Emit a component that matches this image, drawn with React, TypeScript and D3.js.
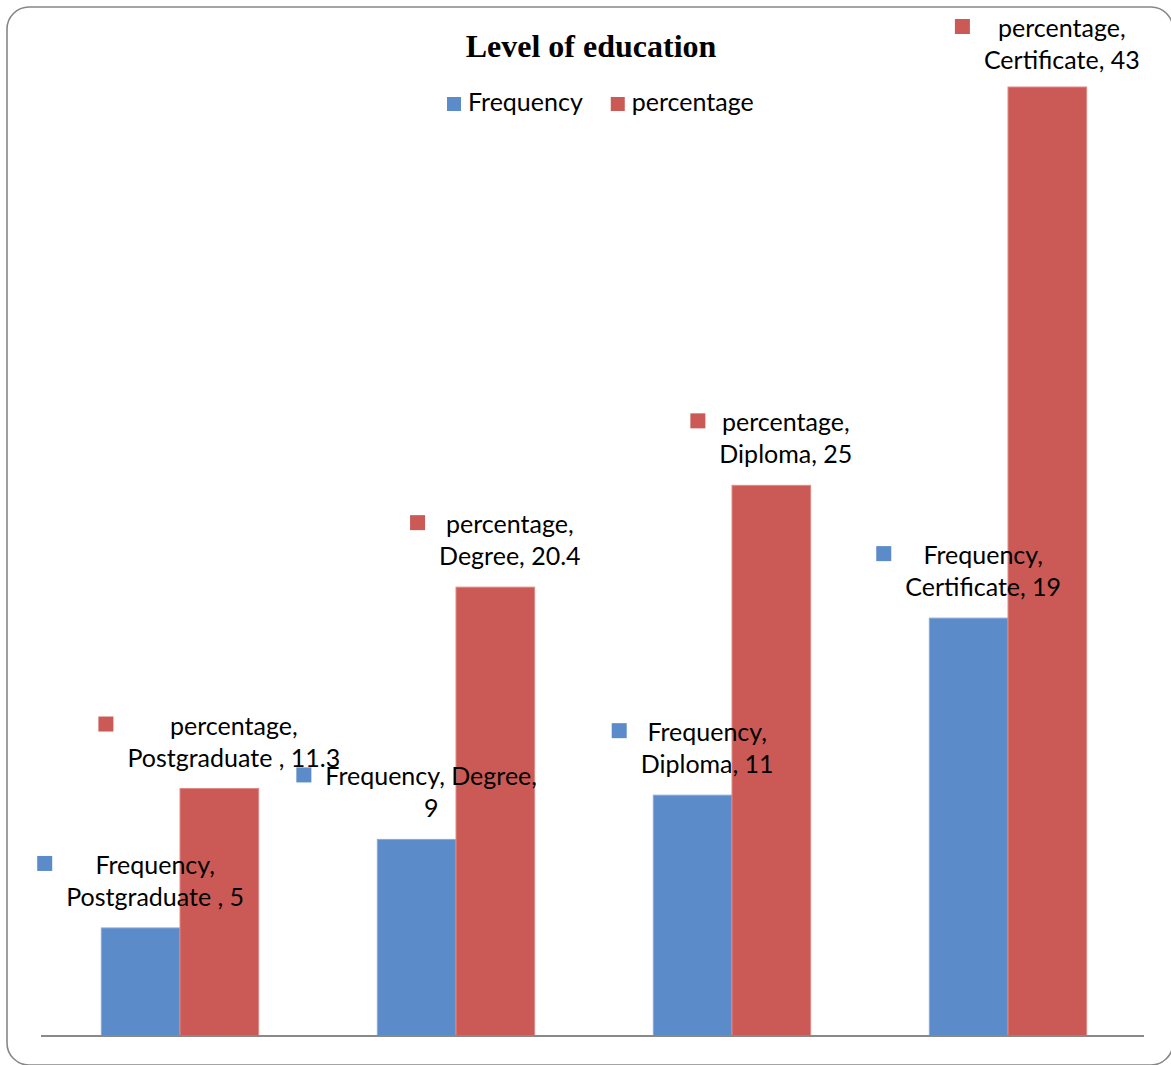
import React, { useEffect, useRef } from "react";
import * as d3 from "d3";

const categories = ["Postgraduate ", "Degree", "Diploma", "Certificate"];
const seriesNames = ["Frequency", "percentage"];
const frequency = [5, 9, 11, 19];
const percentage = [11.3, 20.4, 25, 43];
// where each data label wraps: after the series name, or before the value
const frequencyWrap = ["series", "value", "series", "series"];
const percentageWrap = ["series", "series", "series", "series"];

const W = 1171;
const H = 1065;
const COLORS = ["#5B8BC8", "#CB5A56"];
const EDGE = ["#87A9D9", "#E08A86"];
const FONT = "Lato, 'Open Sans', sans-serif";
const FS = 25;

export default function App() {
  const ref = useRef<SVGSVGElement | null>(null);

  useEffect(() => {
    const svg = d3.select(ref.current);
    svg.selectAll("*").remove();

    // frame
    svg
      .append("rect")
      .attr("x", 7)
      .attr("y", 7)
      .attr("width", 1166)
      .attr("height", 1058)
      .attr("rx", 22)
      .attr("fill", "#fff")
      .attr("stroke", "#878787")
      .attr("stroke-width", 1.6);

    const axisY = 1036;
    const x = d3
      .scaleBand<string>()
      .domain(categories)
      .range([42, 1146])
      .paddingInner(0.43)
      .paddingOuter(0.215);
    const xs = d3.scaleBand<string>().domain(seriesNames).range([0, x.bandwidth()]);
    const y = d3.scaleLinear().domain([0, 43]).range([1038.6, 87]);

    const series = [frequency, percentage];
    const wraps = [frequencyWrap, percentageWrap];

    // bars
    series.forEach((vals, si) => {
      svg
        .append("g")
        .selectAll("rect")
        .data(vals)
        .join("rect")
        .attr("x", (_d, i) => (x(categories[i]) as number) + (xs(seriesNames[si]) as number))
        .attr("y", (d) => y(d))
        .attr("width", xs.bandwidth())
        .attr("height", (d) => axisY - y(d))
        .attr("fill", COLORS[si])
        .attr("stroke", EDGE[si])
        .attr("stroke-width", 1);
    });

    // axis line
    svg
      .append("line")
      .attr("x1", 41)
      .attr("x2", 1144)
      .attr("y1", axisY)
      .attr("y2", axisY)
      .attr("stroke", "#898989")
      .attr("stroke-width", 2);

    // data labels
    const lineH = 32;
    const sq = 15;
    const gap = 14;
    series.forEach((vals, si) => {
      vals.forEach((v, i) => {
        const cat = categories[i];
        const name = seriesNames[si];
        const lines =
          wraps[si][i] === "series"
            ? [`${name},`, `${cat}, ${v}`]
            : [`${name}, ${cat},`, `${v}`];
        const cx = (x(cat) as number) + (xs(name) as number) + xs.bandwidth() / 2;
        let base2 = y(v) - 22;
        let base1 = base2 - lineH;
        if (base1 < 37) {
          base1 = 37;
          base2 = base1 + lineH;
        }
        const g = svg.append("g");
        const texts = lines.map((t, li) =>
          g
            .append("text")
            .attr("y", li === 0 ? base1 : base2)
            .attr("text-anchor", "middle")
            .attr("font-family", FONT)
            .attr("font-size", FS)
            .attr("fill", "#000")
            .text(t)
        );
        const widths = texts.map((t) => (t.node() as SVGTextElement).getComputedTextLength());
        const tw = Math.max(...widths);
        const blockW = sq + gap + tw;
        const left = cx - blockW / 2;
        const textCx = left + sq + gap + tw / 2;
        texts.forEach((t) => t.attr("x", textCx));
        g.append("rect")
          .attr("x", left)
          .attr("y", base1 - 18)
          .attr("width", sq)
          .attr("height", sq)
          .attr("fill", COLORS[si]);
      });
    });

    // title
    svg
      .append("text")
      .attr("x", 591)
      .attr("y", 57)
      .attr("text-anchor", "middle")
      .attr("font-family", "'Liberation Serif', 'Times New Roman', serif")
      .attr("font-weight", "bold")
      .attr("font-size", 32)
      .attr("fill", "#000")
      .text("Level of education");

    // legend
    let lx = 447;
    seriesNames.forEach((name, si) => {
      svg
        .append("rect")
        .attr("x", lx)
        .attr("y", 97)
        .attr("width", 14)
        .attr("height", 14)
        .attr("fill", COLORS[si]);
      const t = svg
        .append("text")
        .attr("x", lx + 21)
        .attr("y", 111)
        .attr("font-family", FONT)
        .attr("font-size", FS)
        .attr("fill", "#000")
        .text(name);
      const tw = (t.node() as SVGTextElement).getComputedTextLength();
      lx = lx + 21 + tw + 28;
    });
  }, []);

  return (
    <svg
      ref={ref}
      width={W}
      height={H}
      style={{ position: "absolute", left: 0, top: 0, background: "#fff" }}
    />
  );
}
